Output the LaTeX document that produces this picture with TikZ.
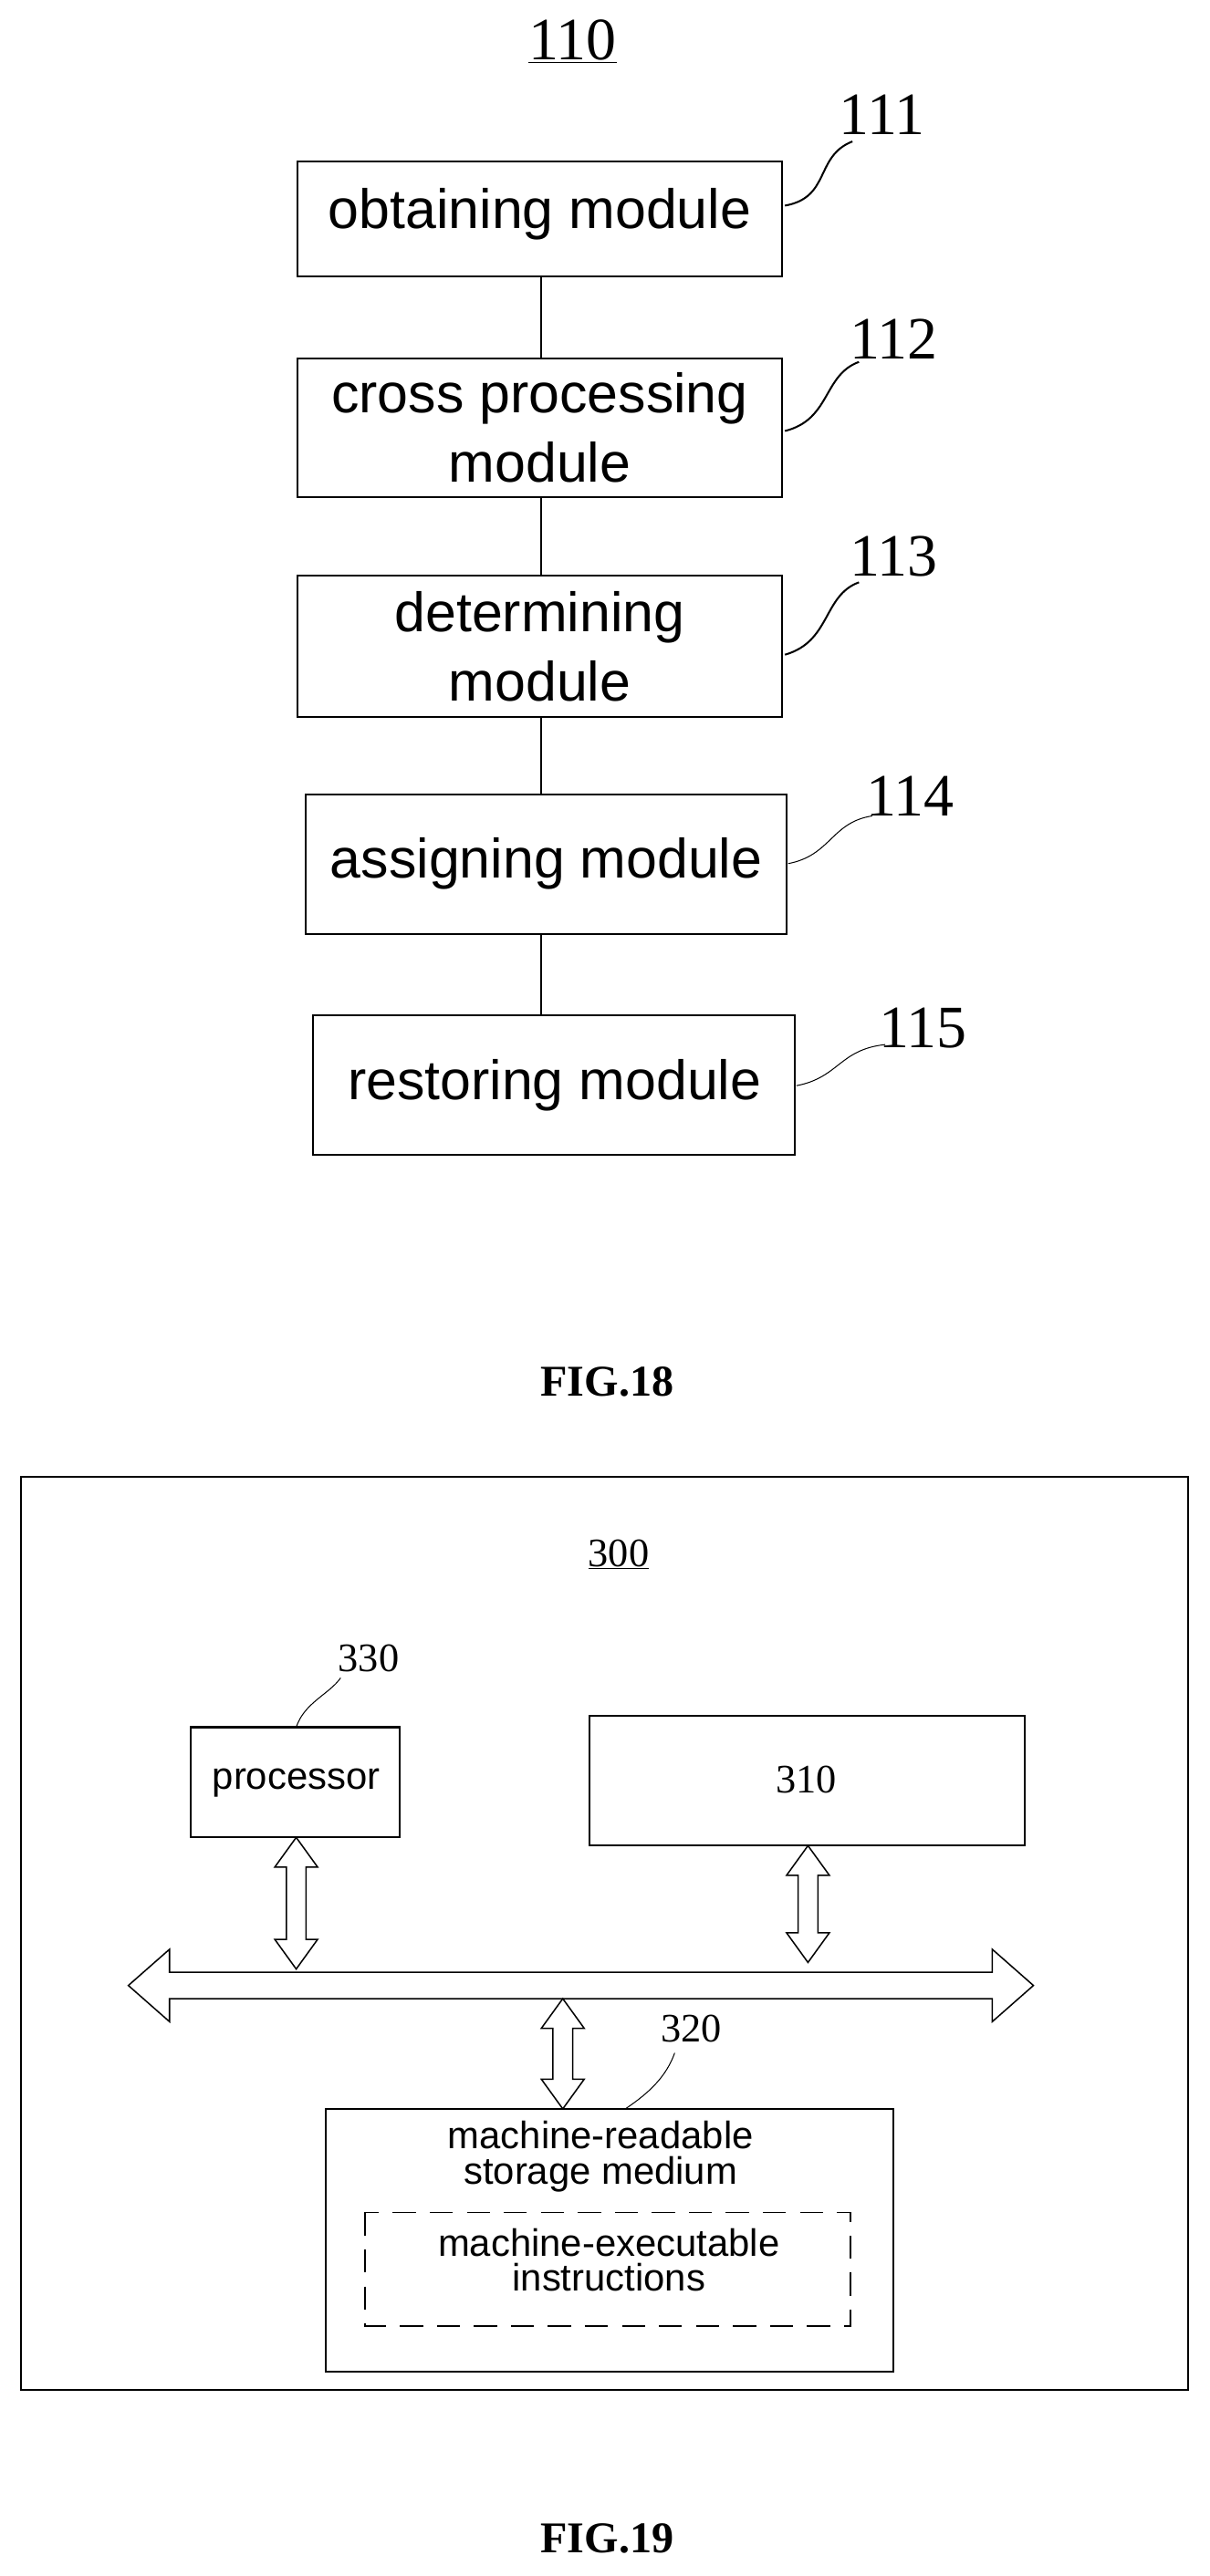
\documentclass[tikz,border=0pt]{standalone}
\usepackage{fontspec}
\setmainfont{Liberation Serif}
\newfontfamily\arl{Liberation Sans}
\begin{document}
\begin{tikzpicture}[x=0.05cm,y=-0.05cm,line width=1.6pt,
 mod/.style={rectangle,align=center,font=\arl\fontsize{48}{60}\selectfont},
 num/.style={font=\fontsize{52}{56}\selectfont},
 fig/.style={font=\bfseries\fontsize{38}{42}\selectfont},
 sm/.style={align=center,font=\arl\fontsize{33}{30}\selectfont},
 snum/.style={font=\fontsize{35}{38}\selectfont}]
\useasboundingbox (0,0) rectangle (735,1566);
\node[num] (t110) at (348,25) {\underline{110}};
\draw (181,98) rectangle (475,168); \node[mod] (m1) at (328,130) {obtaining module};
\draw (181,218) rectangle (475,302); \node[mod] (m2) at (328,260) {cross processing\\module};
\draw (181,350) rectangle (475,436); \node[mod] (m3) at (328,393) {determining\\module};
\draw (186,483) rectangle (478,568); \node[mod] (m4) at (332,525) {assigning module};
\draw (190,617) rectangle (483,702); \node[mod] (m5) at (337,660) {restoring module};
\coordinate (a1) at (329,168); \coordinate (b1) at (329,218);
\coordinate (a2) at (329,302); \coordinate (b2) at (329,350);
\coordinate (a3) at (329,436); \coordinate (b3) at (329,483);
\coordinate (a4) at (329,568); \coordinate (b4) at (329,617);
\draw (a1)--(b1); \draw (a2)--(b2); \draw (a3)--(b3); \draw (a4)--(b4);
\node[num] (l111) at (536,70) {111};
\node[num] (l112) at (543,206) {112};
\node[num] (l113) at (543,338) {113};
\node[num] (l114) at (553,484) {114};
\node[num] (l115) at (561,625) {115};
\draw (477,125) .. controls (505,120) and (495,95) .. (518,86);
\draw (477,262) .. controls (505,255) and (500,228) .. (522,220);
\draw (477,398) .. controls (505,390) and (500,362) .. (522,354);
\draw[line width=0.8pt] (479,525) .. controls (505,520) and (505,500) .. (530,496);
\draw[line width=0.8pt] (484,660) .. controls (510,655) and (510,638) .. (538,635);
\node[fig] (f18) at (369,840) {FIG.18};
% FIG 19
\draw (13,898) rectangle (722,1453);
\node[snum] (t300) at (376,945) {\underline{300}};
\draw (116,1050) rectangle (243,1117); \node[sm] (proc) at (180,1084) {processor};
\draw (358,1043) rectangle (623,1122); \node[snum] (n310) at (490,1082) {310};
\node[snum] (l330) at (224,1008) {330};
\draw[line width=0.8pt] (180,1050) .. controls (185,1035) and (200,1030) .. (207,1020);
\draw[line width=1.2pt] (78,1207)--(103,1185)--(103,1199)--(603,1199)--(603,1185)--(628,1207)--(603,1229)--(603,1215)--(103,1215)--(103,1229)--cycle;
\draw[line width=1.2pt] (180,1117)--(193,1135)--(186,1135)--(186,1179)--(193,1179)--(180,1197)--(167,1179)--(174,1179)--(174,1135)--(167,1135)--cycle;
\draw[line width=1.2pt] (491,1122)--(504,1140)--(497,1140)--(497,1175)--(504,1175)--(491,1193)--(478,1175)--(485,1175)--(485,1140)--(478,1140)--cycle;
\draw[line width=1.2pt] (342,1215)--(355,1233)--(348,1233)--(348,1264)--(355,1264)--(342,1282)--(329,1264)--(336,1264)--(336,1233)--(329,1233)--cycle;
\draw (198,1282) rectangle (543,1442);
\node[sm] (stor) at (365,1311) {machine-readable\\storage medium};
\draw[dash pattern=on 20pt off 12pt,line width=1.4pt] (222,1345) rectangle (517,1414);
\node[sm] (ins) at (370,1374) {machine-executable\\instructions};
\node[snum] (l320) at (420,1233) {320};
\draw[line width=0.8pt] (380,1282) .. controls (395,1272) and (405,1262) .. (410,1248);
\node[fig] (f19) at (369,1543) {FIG.19};
\end{tikzpicture}
\end{document}
